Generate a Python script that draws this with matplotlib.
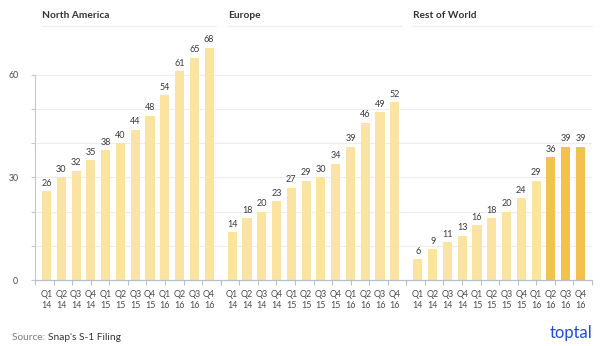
import numpy as np
import matplotlib
matplotlib.use("Agg")
import matplotlib.pyplot as plt

plt.rcParams["font.family"] = ["Lato", "DejaVu Sans"]

# Snap daily active users by region (millions)
regions = ["North America", "Europe", "Rest of World"]
quarters = ["Q1\n14", "Q2\n14", "Q3\n14", "Q4\n14",
            "Q1\n15", "Q2\n15", "Q3\n15", "Q4\n15",
            "Q1\n16", "Q2\n16", "Q3\n16", "Q4\n16"]
north_america = [26, 30, 32, 35, 38, 40, 44, 48, 54, 61, 65, 68]
europe = [14, 18, 20, 23, 27, 29, 30, 34, 39, 46, 49, 52]
rest_of_world = [6, 9, 11, 13, 16, 18, 20, 24, 29, 36, 39, 39]
highlight_row = [False] * 9 + [True] * 3

light = "#FBE3A2"
dark = "#F2C14E"
grid_col = "#EDEDED"
axis_col = "#B7BFCC"
text_col = "#3A3A3A"

fig = plt.figure(figsize=(6, 3.46), dpi=100)

ymax = 74.3
x = np.arange(len(quarters))
left, bottom, height = 35 / 600, 1 - 280 / 346, 254 / 346
panel_w = (592 - 35) / 600 / 3

series = [north_america, europe, rest_of_world]
for i, (name, vals) in enumerate(zip(regions, series)):
    ax = fig.add_axes([left + i * panel_w, bottom, panel_w, height])
    if i == 2:
        colors = [dark if h else light for h in highlight_row]
    else:
        colors = [light] * len(vals)
    bars = ax.bar(x, vals, width=0.62, color=colors, zorder=2)
    for b, v in zip(bars, vals):
        ax.text(b.get_x() + b.get_width() / 2, v + 1.0, str(v),
                ha="center", va="bottom", fontsize=6.5, color=text_col)

    ax.set_xlim(-0.78, 11.78)
    ax.set_ylim(0, ymax)
    ax.set_yticks(np.arange(10, 70, 10), minor=False)
    ax.grid(axis="y", color=grid_col, linewidth=0.8, zorder=0)
    ax.set_axisbelow(True)

    ax.set_xticks(x)
    ax.set_xticklabels(quarters, fontsize=6.4, color="#4A4A4A", linespacing=1.3)
    ax.tick_params(axis="x", length=0, pad=7)
    ax.set_xticks(np.linspace(-0.78, 11.78, 11), minor=True)
    ax.tick_params(axis="x", which="minor", length=3.5, color=axis_col, width=0.8)

    for s in ["top", "right"]:
        ax.spines[s].set_visible(False)
    ax.spines["bottom"].set_color(axis_col)
    ax.spines["bottom"].set_linewidth(0.9)

    if i == 0:
        ax.set_yticks(np.arange(0, 70, 10))
        ax.set_yticklabels(["0", "", "", "30", "", "", "60"])
        ax.tick_params(axis="y", length=3, color="#C8C8C8", pad=9,
                       labelsize=6.3, labelcolor="#4A4A4A")
        ax.spines["left"].set_bounds(0, 60)
        ax.spines["left"].set_color("#C8C8C8")
        ax.spines["left"].set_linewidth(0.8)
    else:
        ax.spines["left"].set_visible(False)
        ax.tick_params(axis="y", length=0, labelleft=False)

    # panel heading and its underline
    ax.plot([-0.3, 11.45 if i < 2 else 11.78], [ymax, ymax], color="#EEEEEE",
            linewidth=0.9, clip_on=False)
    ax.text(-0.3, ymax + 3.2, name, ha="left", va="center", fontsize=7.3,
            fontweight="bold", color="#333333")

src = fig.text(12 / 600, 1 - 337 / 346, "Source: ", fontsize=7.3, color="#7A7A7A",
               ha="left", va="center")
fig.add_artist(plt.Annotation("Snap's S-1 Filing", xy=(1, 0.5), xycoords=src,
                              fontsize=7.3, color="#333333", ha="left", va="center"))
fig.text(592 / 600, 1 - 333 / 346, "toptal", fontsize=12, color="#204ECF",
         ha="right", va="center")

fig.savefig("out.png", dpi=100)
